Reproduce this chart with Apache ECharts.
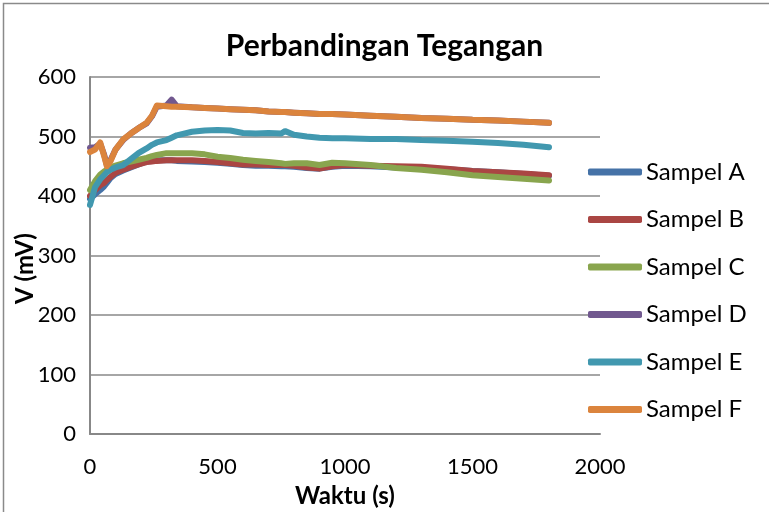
<!DOCTYPE html>
<html>
<head>
<meta charset="utf-8">
<script src="https://cdn.jsdelivr.net/npm/echarts@6/dist/echarts.min.js"></script>
<style>html,body{margin:0;padding:0;background:#fff;}#c{width:769px;height:512px;}</style>
</head>
<body>
<div id="c"></div>
<script>
var times = [0,20,40,55,66,80,100,130,160,190,222,243,262,300,320,340,400,450,500,550,600,650,700,750,765,800,850,900,950,1000,1100,1200,1300,1400,1500,1600,1700,1800];
var sampelA = [395,403,410,416,422,430,437,443,448,453,458,459,460,460,460,459,458,457,456,454,452,451,451,450,450,449,447,446,449,451,450,448,447,445,442,440,437,434];
var sampelB = [400,410,418,422,427,432,439,444,449,453,457,458,459,460,460,460,460,459,457,455,453,453,452,452,452,451,448,446,450,452,451,450,449,446,442,440,438,435];
var sampelC = [410,425,436,441,444,448,451,455,458,461,464,467,469,472,472,472,472,470,466,464,461,459,457,455,454,455,455,452,456,455,452,447,444,440,435,432,429,426];
var sampelD = [481,482,488,470,452,460,478,494,505,514,522,534,550,552,562,551,549,548,547,546,545,544,542,541,541,540,539,538,538,537,535,533,531,530,528,527,525,523];
var sampelE = [385,415,428,435,440,444,448,452,462,472,480,486,490,494,498,502,508,510,511,510,506,505,506,505,509,503,500,498,497,497,496,496,494,493,491,489,486,482];
var sampelF = [474,478,490,468,450,458,478,495,505,514,523,535,552,551,550,550,549,548,547,546,545,544,542,541,541,540,539,538,538,537,535,533,531,530,528,527,525,523];
var seriesNames = ['Sampel A','Sampel B','Sampel C','Sampel D','Sampel E','Sampel F'];
var seriesValues = [sampelA, sampelB, sampelC, sampelD, sampelE, sampelF];
var colors = ['#4572A7','#AA4643','#89A54E','#71588F','#4198AF','#DB843D'];

function pairs(vals){ return times.map(function(t,i){ return [t, vals[i]]; }); }

var font = 'Lato, "Open Sans", sans-serif';
var chart = echarts.init(document.getElementById('c'), null, {renderer:'canvas'});
chart.setOption({
  animation: false,
  color: colors,
  textStyle: {fontFamily: font},
  graphic: [{type:'rect', shape:{x:3.5,y:3.5,width:800,height:600}, style:{fill:'none', stroke:'#8a8a8a', lineWidth:1.5}, silent:true}],
  title: {text:'Perbandingan Tegangan', left:'center', top:31, padding:0, itemGap:0,
    textStyle:{fontFamily:font, fontWeight:'bold', fontSize:30, color:'#000'}},
  grid: {left:90, top:77, right:169, bottom:78, outerBoundsMode:'none', containLabel:false},
  legend: {orient:'vertical', left:583, top:155, itemWidth:54, itemHeight:7, itemGap:23.5,
    icon:'roundRect',
    textStyle:{fontFamily:font, fontSize:24, color:'#000', lineHeight:24, padding:[0,0,0,-1]},
    data: seriesNames},
  xAxis: {type:'value', min:0, max:2000, interval:500,
    name:'Waktu (s)', nameLocation:'middle', nameGap:50, nameMoveOverlap:false,
    nameTextStyle:{fontFamily:font, fontWeight:'bold', fontSize:24, color:'#000'},
    axisLine:{lineStyle:{color:'#888', width:2}}, axisTick:{show:false},
    axisLabel:{fontFamily:font, fontSize:22, color:'#000', margin:22, formatter:function(v){return String(v);}},
    splitLine:{show:false}},
  yAxis: {type:'value', min:0, max:600, interval:100,
    name:'V (mV)', nameLocation:'middle', nameGap:53, nameMoveOverlap:false,
    nameTextStyle:{fontFamily:font, fontWeight:'bold', fontSize:24, color:'#000', padding:[0,26,0,0]},
    axisLine:{show:true, lineStyle:{color:'#888', width:2}}, axisTick:{show:false},
    axisLabel:{fontFamily:font, fontSize:22, color:'#000', margin:14},
    splitLine:{show:true, lineStyle:{color:'#888', width:1.5}}},
  series: seriesNames.map(function(n,i){
    return {name:n, type:'line', data:pairs(seriesValues[i]), showSymbol:false, symbol:'none',
      lineStyle:{width:6, cap:'round', join:'round'}, smooth:false};
  })
});
</script>
</body>
</html>
